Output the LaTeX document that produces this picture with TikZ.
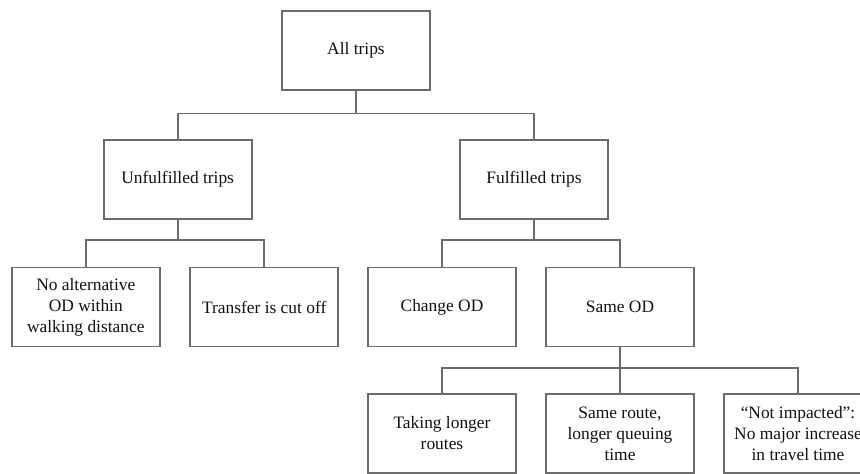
\documentclass[tikz,border=0pt]{standalone}
\usepackage{fontspec}
\setmainfont{Liberation Serif}
\definecolor{linegray}{HTML}{6C6C6C}
\definecolor{txt}{HTML}{111111}
\begin{document}
\begin{tikzpicture}[x=1pt,y=-1pt,
  box/.style={draw=linegray, line width=1.6pt, minimum width=148pt, minimum height=79pt,
    align=center, inner sep=2pt, text=txt, font=\fontsize{17.4}{21}\selectfont},
  conn/.style={draw=linegray, line width=1.6pt}]
\useasboundingbox (0,0) rectangle (860,474);
\clip (0,0) rectangle (860,474);
\fill[white] (0,0) rectangle (860,474);
\node[box] (all) at (356,50.5) {All trips};
\node[box] (unf) at (177.7,179.6) {Unfulfilled trips};
\node[box] (ful) at (534,179.6) {Fulfilled trips};
\node[box] (noalt) at (85.8,307) {No alternative\\OD within\\walking distance};
\node[box] (trans) at (264.2,307) {Transfer is cut off};
\node[box] (chg) at (442,307) {Change OD};
\node[box] (same) at (620,307) {Same OD};
\node[box] (longer) at (442,433.5) {Taking longer\\routes};
\node[box] (queue) at (620,433.5) {Same route,\\longer queuing\\time};
\node[box] (notimp) at (798,433.5) {“Not impacted”:\\No major increase\\in travel time};
\coordinate (b1) at (356,113.3);
\coordinate (b2) at (177.7,240);
\coordinate (b3) at (534,240);
\coordinate (b4) at (620,367.7);
\draw[conn] (all.south) -- (b1);
\draw[conn] (unf.north) |- (b1) -| (ful.north);
\draw[conn] (unf.south) -- (b2);
\draw[conn] (noalt.north) |- (b2) -| (trans.north);
\draw[conn] (ful.south) -- (b3);
\draw[conn] (chg.north) |- (b3) -| (same.north);
\draw[conn] (same.south) -- (queue.north);
\draw[conn] (longer.north) |- (b4) -| (notimp.north);
\end{tikzpicture}
\end{document}
